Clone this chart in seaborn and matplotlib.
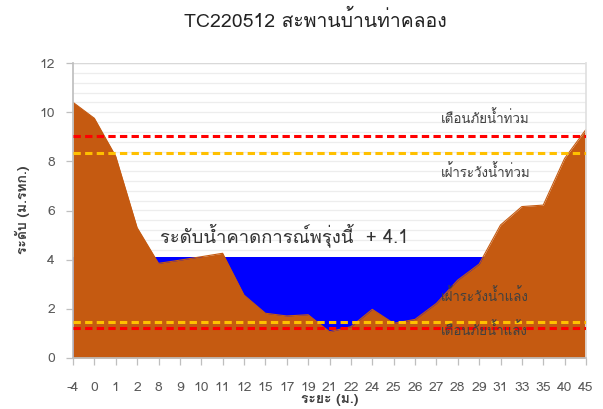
import numpy as np
import pandas as pd
import matplotlib
matplotlib.use("Agg")
import matplotlib.pyplot as plt
import seaborn as sns
from matplotlib import font_manager as fm
from matplotlib.ft2font import FT2Font

# ---------------- data ----------------
distance_labels = ["-4", "0", "1", "2", "8", "9", "10", "11", "12", "15", "17", "19",
                   "21", "22", "24", "25", "26", "27", "28", "29", "31", "33", "35", "40", "45"]
ground_level = [10.4, 9.75, 8.2, 5.3, 3.85, 3.98, 4.12, 4.26, 2.56, 1.82, 1.71, 1.76,
                1.07, 1.27, 1.98, 1.41, 1.57, 2.22, 3.17, 3.82, 5.41, 6.16, 6.22, 8.12, 9.3]
water_level = 4.1
flood_warning = 9.05
flood_watch = 8.35
drought_watch = 1.48
drought_warning = 1.23

title = "TC220512 สะพานบ้านท่าคลอง"
forecast_label = "ระดับน้ำคาดการณ์พรุ่งนี้  + 4.1"
threshold_labels = ["เตือนภัยน้ำท่วม", "เฝ้าระวังน้ำท่วม", "เฝ้าระวังน้ำแล้ง", "เตือนภัยน้ำแล้ง"]
threshold_label_y = [9.76, 7.57, 2.52, 1.14]
ylabel = "ระดับ (ม.รทก.)"
xlabel = "ระยะ (ม.)"

# ---------------- fonts ----------------
sns.set_theme(style="white")
thai = []
for f in fm.fontManager.ttflist:
    try:
        if 0x0E01 in FT2Font(f.fname).get_charmap():
            if f.name not in thai:
                thai.append(f.name)
    except Exception:
        pass
if "Loma" in thai:
    thai.remove("Loma")
    thai.insert(0, "Loma")
families = thai[:1] + ["DejaVu Sans"] + thai[1:]
plt.rcParams["font.family"] = families

df = pd.DataFrame({"x": np.arange(len(distance_labels)), "ground": ground_level})

fig = plt.figure(figsize=(6.03, 4.09), dpi=100)
ax = fig.add_axes([73 / 603, 1 - 358 / 409, (586 - 73) / 603, (358 - 63) / 409])

# gridlines
for gy in np.arange(0.4, 12.01, 0.4):
    ax.axhline(gy, color="#EDEDED", lw=0.9, zorder=0)

# water and ground
ax.fill_between(df["x"], 0, water_level, color="#0000FF", lw=0, zorder=1)
ax.fill_between(df["x"], 0, df["ground"], color="#C55A11", lw=0, zorder=2)
sns.lineplot(data=df, x="x", y="ground", ax=ax, color="#C55A11", lw=0.8, zorder=2)

# threshold lines
for val, col in [(flood_warning, "#FF0000"), (flood_watch, "#FFC000"),
                 (drought_watch, "#FFC000"), (drought_warning, "#FF0000")]:
    ax.axhline(val, color=col, lw=2.2, dashes=(2.4, 1.4), zorder=3)

ax.text(4.05, 5.0, forecast_label, fontsize=13.3, color="#333333", va="center", ha="left", zorder=4)
for lab, yy in zip(threshold_labels, threshold_label_y):
    ax.text(17.2, yy, lab, fontsize=9.6, color="#404040", va="center", ha="left", zorder=4)

ax.set_xlim(0, len(distance_labels) - 1)
ax.set_ylim(0, 12)
ax.set_xticks(df["x"])
ax.set_xticklabels(distance_labels)
ax.set_yticks(np.arange(0, 13, 2))
ax.tick_params(axis="both", colors="#BFBFBF", labelcolor="#595959", labelsize=10,
               length=5, width=0.9, direction="out", bottom=True, left=True)
ax.tick_params(axis="x", pad=12)
ax.tick_params(axis="y", pad=8)
ax.spines["top"].set_visible(False)
ax.spines["left"].set_color("#BFBFBF")
ax.spines["bottom"].set_color("#BFBFBF")
ax.spines["right"].set_color("#E0E0E0")
ax.set_xlabel("")
ax.set_ylabel("")
ax.axhline(12, color="#D9D9D9", lw=1, zorder=0)

fig.text(315 / 603, 1 - 20 / 409, title, fontsize=14, color="#222222", ha="center", va="center")
fig.text(22 / 603, 1 - 210 / 409, ylabel, fontsize=10, fontweight="bold", color="#404040",
         rotation=90, ha="center", va="center")
fig.text(330 / 603, 1 - 400 / 409, xlabel, fontsize=10, fontweight="bold", color="#404040",
         ha="center", va="center")

fig.savefig("out.png", dpi=100)
